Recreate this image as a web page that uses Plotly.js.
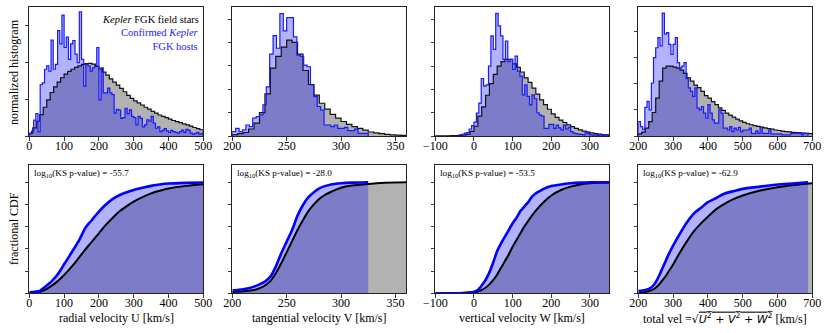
<!DOCTYPE html>
<html><head><meta charset="utf-8">
<script src="https://cdn.plot.ly/plotly-3.0.1.min.js"></script>
<style>html,body{margin:0;padding:0;background:#fff}#chart{width:830px;height:333px}</style>
</head><body><div id="chart"></div>
<script>
// ---------- histogram data (normalized, in tick units) ----------
// U (radial velocity)
const U_field_bin0 = 0, U_field_binw = 10;
const U_field_hist = [0.08,0.22,0.4,0.58,0.78,0.98,1.18,1.33,1.46,1.58,1.68,1.75,1.81,1.86,1.9,1.94,1.96,1.97,1.95,1.89,1.82,1.73,1.65,1.55,1.46,1.38,1.29,1.2,1.1,1.02,0.95,0.9,0.84,0.78,0.73,0.67,0.62,0.57,0.53,0.5,0.46,0.42,0.39,0.36,0.33,0.3,0.27,0.23,0.2,0.17];
const U_host_bin0 = 0, U_host_binw = 6.25;
const U_host_hist = [0.06,0.13,0.43,0.61,0.11,1.39,1.44,1.81,1.9,1.76,2.6,1.81,1.94,2.86,2.5,3.28,2.4,2.68,2.08,2.5,2.59,2.22,1.99,3.37,2.08,1.35,1.94,1.9,1.76,1.85,1.9,2.4,0.98,1.85,1.17,1.17,1.3,1.17,1.12,0.62,0.72,0.7,0.48,0.5,0.75,0.6,0.71,0.53,0.5,0.3,0.53,0.48,0.25,0.3,0.44,0.4,0.53,0.35,0.21,0.25,0.12,0.15,0.2,0.14,0.1,0.15,0.12,0.1,0.08,0.12,0.16,0.1,0.18,0.15,0.08,0.05,0.07,0.1,0.05,0.07];
// V (tangential velocity)
const V_field_bin0 = 200, V_field_binw = 5;
const V_field_hist = [0.06,0.1,0.15,0.3,0.55,1.0,1.8,2.9,3.4,3.8,4.1,4.0,3.5,2.8,2.2,1.75,1.4,1.15,0.92,0.76,0.62,0.5,0.4,0.33,0.25,0.17,0.13,0.1,0.07,0.05,0.04,0.03];
const V_host_bin0 = 200, V_host_binw = 3.125;
const V_host_hist = [0.19,0.33,0.19,0.26,0.47,0.4,0.76,0.83,0.9,1.33,2.1,3.5,4.29,3.75,5.23,4.49,5.06,5.06,4.24,3.46,3.4,3.03,2.96,2.18,1.68,1.26,1.11,0.47,0.47,0.4,0.47,0.33,0.33,0.37,0.23,0.23,0.29,0.11,0.11,0.11];
// W (vertical velocity)
const W_field_bin0 = -100, W_field_binw = 10;
const W_field_hist = [0.01,0.01,0.01,0.01,0.015,0.02,0.03,0.05,0.08,0.2,0.42,0.85,1.25,1.75,2.25,2.65,3.0,3.2,3.29,3.29,3.1,2.95,2.75,2.5,2.3,2.06,1.8,1.55,1.35,1.15,0.95,0.8,0.68,0.58,0.48,0.4,0.33,0.26,0.21,0.17,0.13,0.1,0.08,0.06,0.05];
const W_host_bin0 = -37.5, W_host_binw = 6.25;
const W_host_hist = [0.05,0.07,0.12,0.15,0.3,0.45,0.6,0.98,1.41,2.47,2.14,2.2,3.0,4.3,3.72,5.27,4.73,4.3,3.29,4.08,3.2,3.29,2.86,3.43,2.79,2.57,1.77,2.2,1.7,1.34,1.77,1.6,1.0,0.9,0.85,0.33,0.33,0.5,0.5,0.33,0.47,0.35,0.26,0.47,0.3,0.37,0.19,0.12,0.1,0.08,0.07,0.05,0.19,0.1,0.05,0.04,0.05,0.03,0.05,0.03,0.06,0.04];
// total velocity
const T_field_bin0 = 200, T_field_binw = 10;
const T_field_hist = [0.08,0.15,0.3,0.55,0.9,1.45,2.1,2.6,2.68,2.68,2.64,2.6,2.52,2.4,2.23,2.1,1.95,1.85,1.71,1.55,1.45,1.32,1.2,1.08,0.98,0.88,0.8,0.72,0.65,0.58,0.52,0.47,0.43,0.4,0.37,0.34,0.31,0.28,0.26,0.23,0.21,0.19,0.17,0.16,0.14,0.13,0.12,0.11,0.1,0.09];
const T_host_bin0 = 200, T_host_binw = 6.25;
const T_host_hist = [0.55,0.36,0.25,1.1,1.33,1.0,2.03,3.0,3.38,3.77,3.45,4.71,3.9,3.96,3.51,3.13,3.51,3.77,2.81,2.61,2.68,2.81,2.2,1.84,1.71,1.52,1.84,1.07,1.0,1.13,0.88,0.68,1.2,0.88,0.62,0.49,0.49,1.0,0.88,0.3,0.3,0.23,0.36,0.17,0.3,0.23,0.33,0.17,0.23,0.23,0.23,0.3,0.1,0.1,0.2,0.1,0.33,0.1,0.1,0.1,0.23,0.08,0.08,0.08,0.08,0.08,0.04,0.04,0.04,0.04,0.1,0.1,0.1,0.1,0.1,0.04,0.1,0.1];

// ---------- CDF data ----------
const U_host_cdf_x = [0,10,20,30,40,50,60,70,80,90,100,110,120,130,140,150,160,170,180,190,200,220,240,260,280,300,325,350,375,400,450,500];
const U_host_cdf_y = [0.01,0.012,0.015,0.022,0.045,0.07,0.096,0.128,0.165,0.21,0.261,0.31,0.36,0.41,0.46,0.52,0.585,0.625,0.66,0.7,0.736,0.8,0.85,0.885,0.91,0.931,0.95,0.967,0.98,0.988,0.994,0.998];
const U_field_cdf_x = [0,10,20,30,40,50,60,70,80,90,100,110,120,130,140,150,160,170,180,190,200,220,240,260,280,300,325,350,375,400,450,500];
const U_field_cdf_y = [0,0.001,0.005,0.012,0.024,0.04,0.06,0.08,0.105,0.133,0.165,0.198,0.234,0.27,0.309,0.35,0.39,0.428,0.465,0.503,0.54,0.616,0.68,0.74,0.785,0.826,0.866,0.9,0.923,0.943,0.967,0.982];
const V_host_cdf_x = [200,205,210,215,220,225,230,235,240,245,250,255,260,265,270,275,280,285,290,300,310,325];
const V_host_cdf_y = [0.024,0.03,0.036,0.046,0.06,0.08,0.105,0.15,0.24,0.36,0.465,0.57,0.7,0.795,0.865,0.91,0.945,0.965,0.978,0.99,0.996,1.0];
const V_field_cdf_x = [200,210,220,225,230,235,240,245,250,255,260,265,270,275,280,285,290,300,310,325,340,360];
const V_field_cdf_y = [0.01,0.018,0.03,0.045,0.07,0.11,0.18,0.27,0.37,0.47,0.57,0.66,0.74,0.8,0.85,0.885,0.91,0.95,0.97,0.985,0.995,0.999];
const W_host_cdf_x = [-100,-50,-30,-10,0,10,20,30,40,50,60,70,80,90,100,110,120,130,140,150,160,170,180,200,225,250,275,300,350];
const W_host_cdf_y = [0,0,0.003,0.008,0.015,0.03,0.07,0.12,0.19,0.28,0.38,0.45,0.51,0.57,0.63,0.68,0.74,0.78,0.82,0.87,0.9,0.92,0.94,0.965,0.98,0.99,0.996,1.0,1.0];
const W_field_cdf_x = [-100,-50,-20,0,10,20,30,40,50,60,70,80,90,100,110,120,130,140,150,160,180,200,225,250,275,300,325,350];
const W_field_cdf_y = [0,0.001,0.003,0.006,0.015,0.03,0.05,0.08,0.12,0.17,0.23,0.29,0.35,0.42,0.48,0.54,0.6,0.65,0.7,0.745,0.82,0.88,0.93,0.96,0.98,0.99,0.995,0.997];
const T_host_cdf_x = [200,220,230,240,250,260,270,280,290,300,320,340,360,380,400,425,450,475,500,550,600,650,688];
const T_host_cdf_y = [0.02,0.03,0.04,0.06,0.1,0.16,0.23,0.3,0.37,0.43,0.54,0.64,0.72,0.77,0.82,0.86,0.9,0.92,0.94,0.96,0.98,0.99,1.0];
const T_field_cdf_x = [200,220,230,240,250,260,270,280,290,300,320,340,360,380,400,425,450,475,500,550,600,650,700];
const T_field_cdf_y = [0,0.01,0.02,0.03,0.05,0.08,0.12,0.16,0.21,0.26,0.37,0.47,0.56,0.63,0.69,0.76,0.81,0.85,0.88,0.925,0.955,0.975,0.99];

const ks_values = ["-55.7","-28.0","-53.5","-62.9"];
const xRanges = [[0,500],[200,360],[-100,350],[200,700]];
const xTicks = [[0,100,200,300,400,500],[200,250,300,350],[-100,0,100,200,300],[200,300,400,500,600,700]];
const yTopRanges = [[0,3.49],[0,5.5],[0,5.53],[0,4.93]];
const xTitles = ["radial velocity U [km/s]","tangential velocity V [km/s]","vertical velocity W [km/s]",
  'total vel =<span style="font-family:DejaVu Sans;font-size:11px">√<span style="text-decoration:overline"><i>U</i><sup>2</sup> + <i>V</i><sup>2</sup> + <i>W</i><sup>2</sup></span></span> [km/s]'];

const panels = [
  [U_field_bin0,U_field_binw,U_field_hist,U_host_bin0,U_host_binw,U_host_hist,U_field_cdf_x,U_field_cdf_y,U_host_cdf_x,U_host_cdf_y],
  [V_field_bin0,V_field_binw,V_field_hist,V_host_bin0,V_host_binw,V_host_hist,V_field_cdf_x,V_field_cdf_y,V_host_cdf_x,V_host_cdf_y],
  [W_field_bin0,W_field_binw,W_field_hist,W_host_bin0,W_host_binw,W_host_hist,W_field_cdf_x,W_field_cdf_y,W_host_cdf_x,W_host_cdf_y],
  [T_field_bin0,T_field_binw,T_field_hist,T_host_bin0,T_host_binw,T_host_hist,T_field_cdf_x,T_field_cdf_y,T_host_cdf_x,T_host_cdf_y]
];

function stepXY(b0,bw,vals){
  const x=[b0], y=[0];
  for(let i=0;i<vals.length;i++){ x.push(b0+i*bw); y.push(vals[i]); }
  const end=b0+vals.length*bw;
  x.push(end); y.push(vals[vals.length-1]);
  x.push(end); y.push(0);
  return {x,y};
}

const GRAY='#b2b2b2', BLUEFILL='rgba(0,0,255,0.3)', AX='#222';
const W=830,H=333;
const lefts=[29.3,232.3,435.3,638.3], pw=174;
const topDom=[(H-136)/H,(H-7.3)/H], botDom=[(H-293.3)/H,(H-165)/H];
const FONT='Liberation Serif, Times New Roman, serif';

const data=[]; const layout={
  width:W,height:H,margin:{l:0,r:0,t:0,b:0},paper_bgcolor:'#fff',plot_bgcolor:'#fff',
  showlegend:false,font:{family:FONT,size:12,color:'#000'},annotations:[]
};

panels.forEach((p,i)=>{
  const nT=i+1, nB=i+5;
  const xt='x'+(nT===1?'':nT), yt='y'+(nT===1?'':nT);
  const xb='x'+nB, yb='y'+nB;
  const f=stepXY(p[0],p[1],p[2]), h=stepXY(p[3],p[4],p[5]);
  // top fills
  data.push({x:f.x,y:f.y,xaxis:xt,yaxis:yt,type:'scatter',mode:'lines',line:{shape:'hv',width:0,color:GRAY},fill:'tozeroy',fillcolor:GRAY,hoverinfo:'skip'});
  data.push({x:h.x,y:h.y,xaxis:xt,yaxis:yt,type:'scatter',mode:'lines',line:{shape:'hv',width:0,color:'blue'},fill:'tozeroy',fillcolor:BLUEFILL,hoverinfo:'skip'});
  data.push({x:f.x,y:f.y,xaxis:xt,yaxis:yt,type:'scatter',mode:'lines',line:{shape:'hv',width:1.2,color:'#111'},name:'Kepler FGK field stars'});
  data.push({x:h.x,y:h.y,xaxis:xt,yaxis:yt,type:'scatter',mode:'lines',line:{shape:'hv',width:1.2,color:'#1a1aff'},name:'Confirmed Kepler FGK hosts'});
  // bottom CDF
  data.push({x:p[6],y:p[7],xaxis:xb,yaxis:yb,type:'scatter',mode:'lines',line:{width:0,color:GRAY},fill:'tozeroy',fillcolor:GRAY,hoverinfo:'skip'});
  data.push({x:p[8],y:p[9],xaxis:xb,yaxis:yb,type:'scatter',mode:'lines',line:{width:0,color:'blue'},fill:'tozeroy',fillcolor:BLUEFILL,hoverinfo:'skip'});
  data.push({x:p[6],y:p[7],xaxis:xb,yaxis:yb,type:'scatter',mode:'lines',line:{width:2,color:'#000',shape:'spline',smoothing:0.6}});
  data.push({x:p[8],y:p[9],xaxis:xb,yaxis:yb,type:'scatter',mode:'lines',line:{width:2.6,color:'#0000ff',shape:'spline',smoothing:0.6}});

  const dom=[lefts[i]/W,(lefts[i]+pw)/W];
  const common={showline:true,mirror:true,linecolor:AX,linewidth:1,ticks:'outside',ticklen:3.5,tickwidth:0.9,tickcolor:AX,showgrid:false,zeroline:false,fixedrange:true};
  layout['xaxis'+(nT===1?'':nT)]=Object.assign({},common,{domain:dom,anchor:yt,range:xRanges[i],tickmode:'array',tickvals:xTicks[i],tickfont:{size:12,family:FONT},ticklabelstandoff:-5});
  layout['yaxis'+(nT===1?'':nT)]=Object.assign({},common,{domain:topDom,anchor:xt,range:yTopRanges[i],dtick:1,tick0:0,showticklabels:false});
  layout['xaxis'+nB]=Object.assign({},common,{domain:dom,anchor:yb,range:xRanges[i],tickmode:'array',tickvals:xTicks[i],tickfont:{size:12,family:FONT},ticklabelstandoff:-5});
  layout['yaxis'+nB]=Object.assign({},common,{domain:botDom,anchor:xb,range:[0,1.155],dtick:0.2,tick0:0,showticklabels:false});

  layout.annotations.push({xref:xb+' domain',yref:yb+' domain',x:0.015,y:0.935,xanchor:'left',yanchor:'middle',showarrow:false,
    text:'log<sub>10</sub>(KS p-value) = '+ks_values[i],font:{size:9.2,family:FONT,color:'#000'}});
  layout.annotations.push({xref:'paper',yref:'paper',x:(lefts[i]+pw/2)/W,y:(H-318)/H,xanchor:'center',yanchor:'middle',showarrow:false,
    text:xTitles[i],font:{size:12,family:FONT,color:'#000'}});
});

layout.annotations.push({xref:'paper',yref:'paper',x:14/W,y:(H-72)/H,textangle:-90,showarrow:false,xanchor:'center',yanchor:'middle',text:'normalized histogram',font:{size:12,family:FONT}});
layout.annotations.push({xref:'paper',yref:'paper',x:14/W,y:(H-229)/H,textangle:-90,showarrow:false,xanchor:'center',yanchor:'middle',text:'fractional CDF',font:{size:12,family:FONT}});
// legend text in first panel
layout.annotations.push({xref:'x domain',yref:'y domain',x:0.985,y:0.905,xanchor:'right',yanchor:'middle',showarrow:false,text:'<i>Kepler</i> FGK field stars',font:{size:10.5,family:FONT,color:'#000'}});
layout.annotations.push({xref:'x domain',yref:'y domain',x:0.985,y:0.752,xanchor:'right',yanchor:'middle',align:'right',showarrow:false,text:'Confirmed <i>Kepler</i><br>FGK hosts',font:{size:10.5,family:FONT,color:'#1a1aff'}});

Plotly.newPlot('chart',data,layout,{displayModeBar:false,staticPlot:true});
</script></body></html>
